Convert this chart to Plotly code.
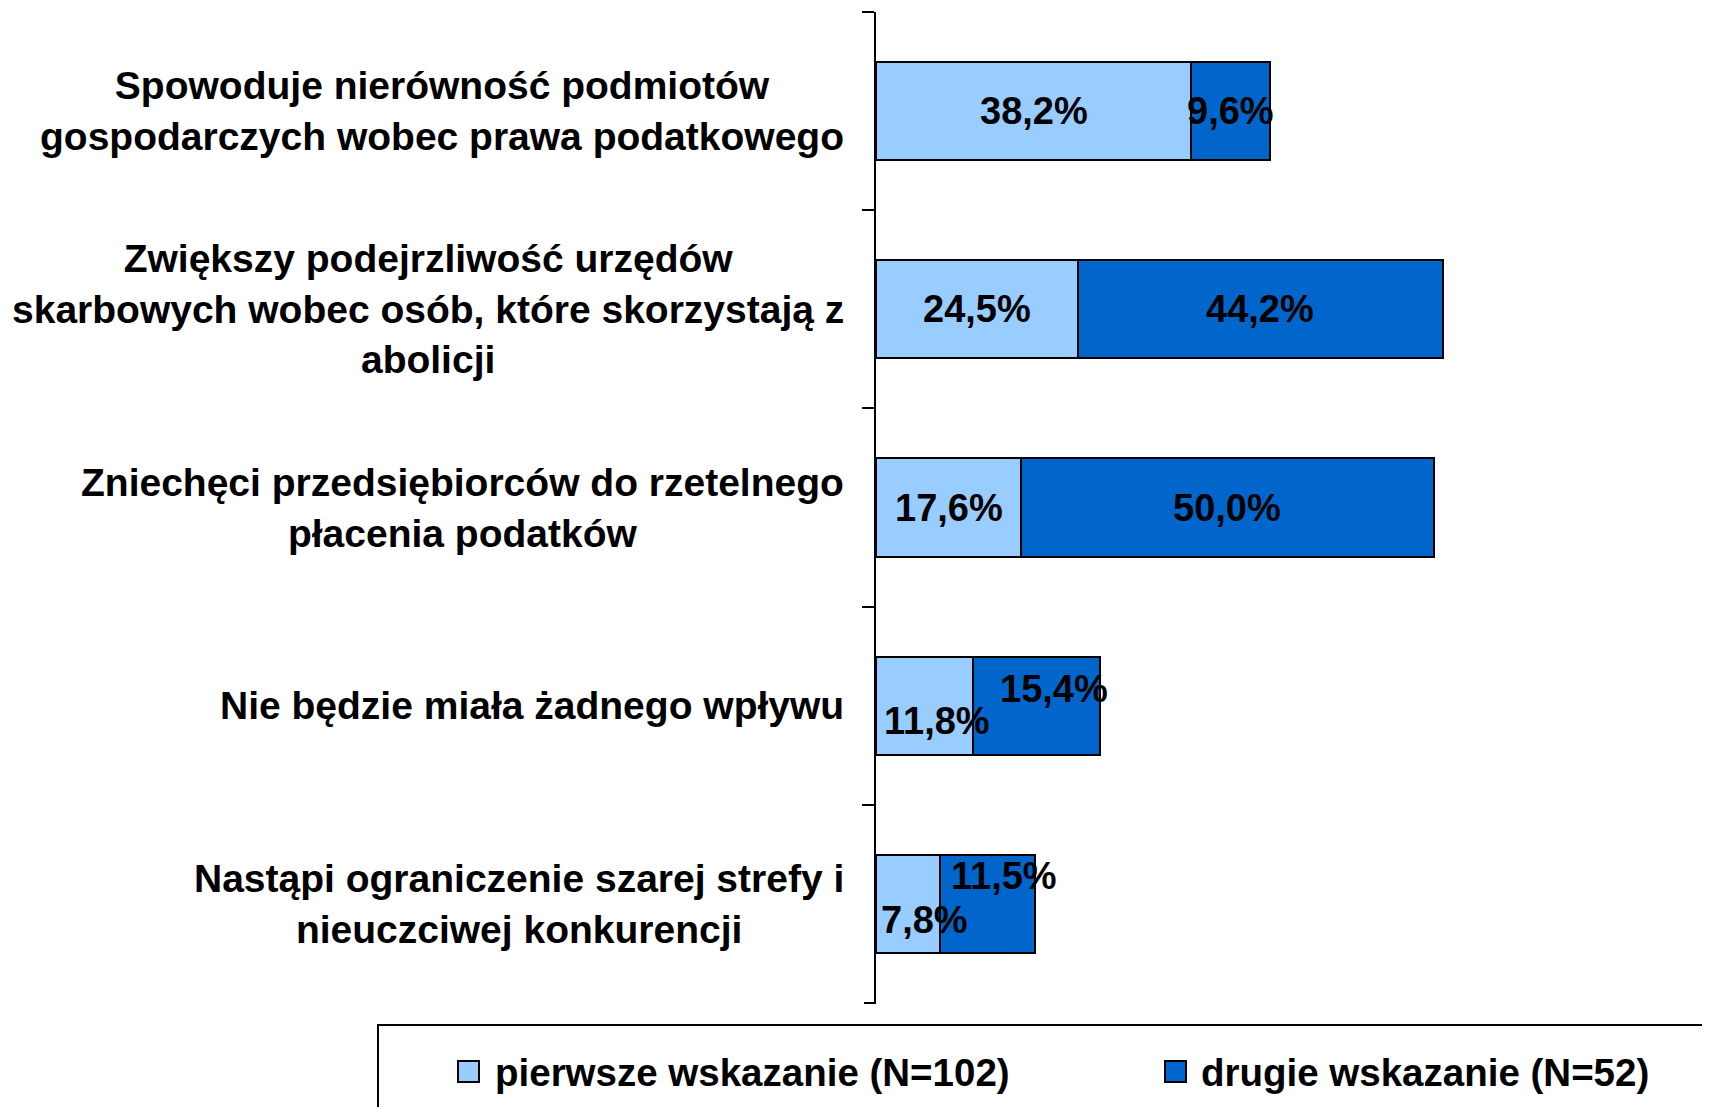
import plotly.graph_objects as go

# ---- data ----
categories = [
    "Spowoduje nierówność podmiotów<br>gospodarczych wobec prawa podatkowego",
    "Zwiększy podejrzliwość urzędów<br>skarbowych wobec osób, które skorzystają z<br>abolicji",
    "Zniechęci przedsiębiorców do rzetelnego<br>płacenia podatków",
    "Nie będzie miała żadnego wpływu",
    "Nastąpi ograniczenie szarej strefy i<br>nieuczciwej konkurencji",
]
series_names = ["pierwsze wskazanie (N=102)", "drugie wskazanie (N=52)"]
pierwsze = [38.2, 24.5, 17.6, 11.8, 7.8]
drugie = [9.6, 44.2, 50.0, 15.4, 11.5]

# ---- style ----
OFF = 8  # page body margin
W, H = 1710 - OFF, 1107 - OFF
L = 876 - OFF
T = 12 - OFF
R = W - (1701 - OFF)
B = H - (1003 - OFF)
PW, PH = W - L - R, H - T - B
FONT = "Liberation Sans, Arial, sans-serif"
FS_CAT = 39
FS_LAB = 38
FS_LEG = 38.5
C_LIGHT = "#99CCFF"
C_DARK = "#0066CC"
# manual label nudges (px) as in the original, (xshift, yshift)
light_shift = [(0, 0), (0, 0), (0, 0), (12, -15), (16, -16)]
dark_shift = [(0, 0), (0, 0), (0, 0), (17, 17), (16, 28)]


def px(x):
    # page pixel -> paper x
    return (x - OFF - L) / PW


def py(y):
    # page pixel -> paper y
    return (H - B - (y - OFF)) / PH


def fmt(v):
    return f"{v:.1f}".replace(".", ",") + "%"


fig = go.Figure()
fig.add_trace(go.Bar(
    y=categories, x=pierwsze, orientation="h", name=series_names[0],
    marker=dict(color=C_LIGHT, line=dict(color="black", width=2)),
    showlegend=False, hoverinfo="skip",
))
fig.add_trace(go.Bar(
    y=categories, x=drugie, orientation="h", name=series_names[1],
    marker=dict(color=C_DARK, line=dict(color="black", width=2)),
    showlegend=False, hoverinfo="skip",
))

annotations = []
# category labels (centered lines, block right-aligned)
for c in categories:
    annotations.append(dict(
        x=0, xref="paper", y=c, yref="y", xanchor="right", yanchor="middle",
        xshift=-30, text="<b>" + c + "</b>", align="center", showarrow=False,
        font=dict(family=FONT, size=FS_CAT, color="black"),
    ))
# data labels
for i, c in enumerate(categories):
    a, b = pierwsze[i], drugie[i]
    annotations.append(dict(
        x=a / 2, xref="x", y=c, yref="y", text="<b>" + fmt(a) + "</b>",
        showarrow=False, xshift=light_shift[i][0], yshift=light_shift[i][1],
        font=dict(family=FONT, size=FS_LAB, color="black"),
    ))
    annotations.append(dict(
        x=a + b / 2, xref="x", y=c, yref="y", text="<b>" + fmt(b) + "</b>",
        showarrow=False, xshift=dark_shift[i][0], yshift=dark_shift[i][1],
        font=dict(family=FONT, size=FS_LAB, color="black"),
    ))

shapes = [
    # bottom boundary tick of the category axis
    dict(type="line", xref="paper", yref="paper",
         x0=px(864), x1=0, y0=0, y1=0, line=dict(color="black", width=2)),
    # legend frame (runs off the page like the original)
    dict(type="rect", xref="paper", yref="paper",
         x0=px(378), x1=px(1740), y0=py(1140), y1=py(1025),
         line=dict(color="black", width=2), fillcolor="rgba(0,0,0,0)"),
]
legend_items = [(series_names[0], C_LIGHT, 458, 493), (series_names[1], C_DARK, 1165, 1199)]
for name, col, sx, tx in legend_items:
    shapes.append(dict(type="rect", xref="paper", yref="paper",
                       x0=px(sx), x1=px(sx + 21), y0=py(1082), y1=py(1061),
                       line=dict(color="black", width=2), fillcolor=col))
    annotations.append(dict(
        x=px(tx), xref="paper", y=py(1072), yref="paper", xanchor="left",
        yanchor="middle", text="<b>" + name + "</b>", showarrow=False,
        font=dict(family=FONT, size=FS_LEG, color="black"),
    ))

fig.update_layout(
    width=W, height=H, barmode="stack", bargap=0.505,
    margin=dict(l=L, r=R, t=T, b=B, autoexpand=False),
    paper_bgcolor="white", plot_bgcolor="white",
    font=dict(family=FONT, size=FS_LAB, color="black"),
    xaxis=dict(range=[0, 100], visible=False),
    yaxis=dict(
        type="category", range=[4.5, -0.5], showticklabels=False,
        showline=True, linecolor="black", linewidth=2,
        ticks="outside", ticklen=12, tickwidth=2, tickcolor="black",
        tickson="boundaries", showgrid=False, zeroline=False,
    ),
    annotations=annotations, shapes=shapes, showlegend=False,
)

fig.write_html("out.html")
